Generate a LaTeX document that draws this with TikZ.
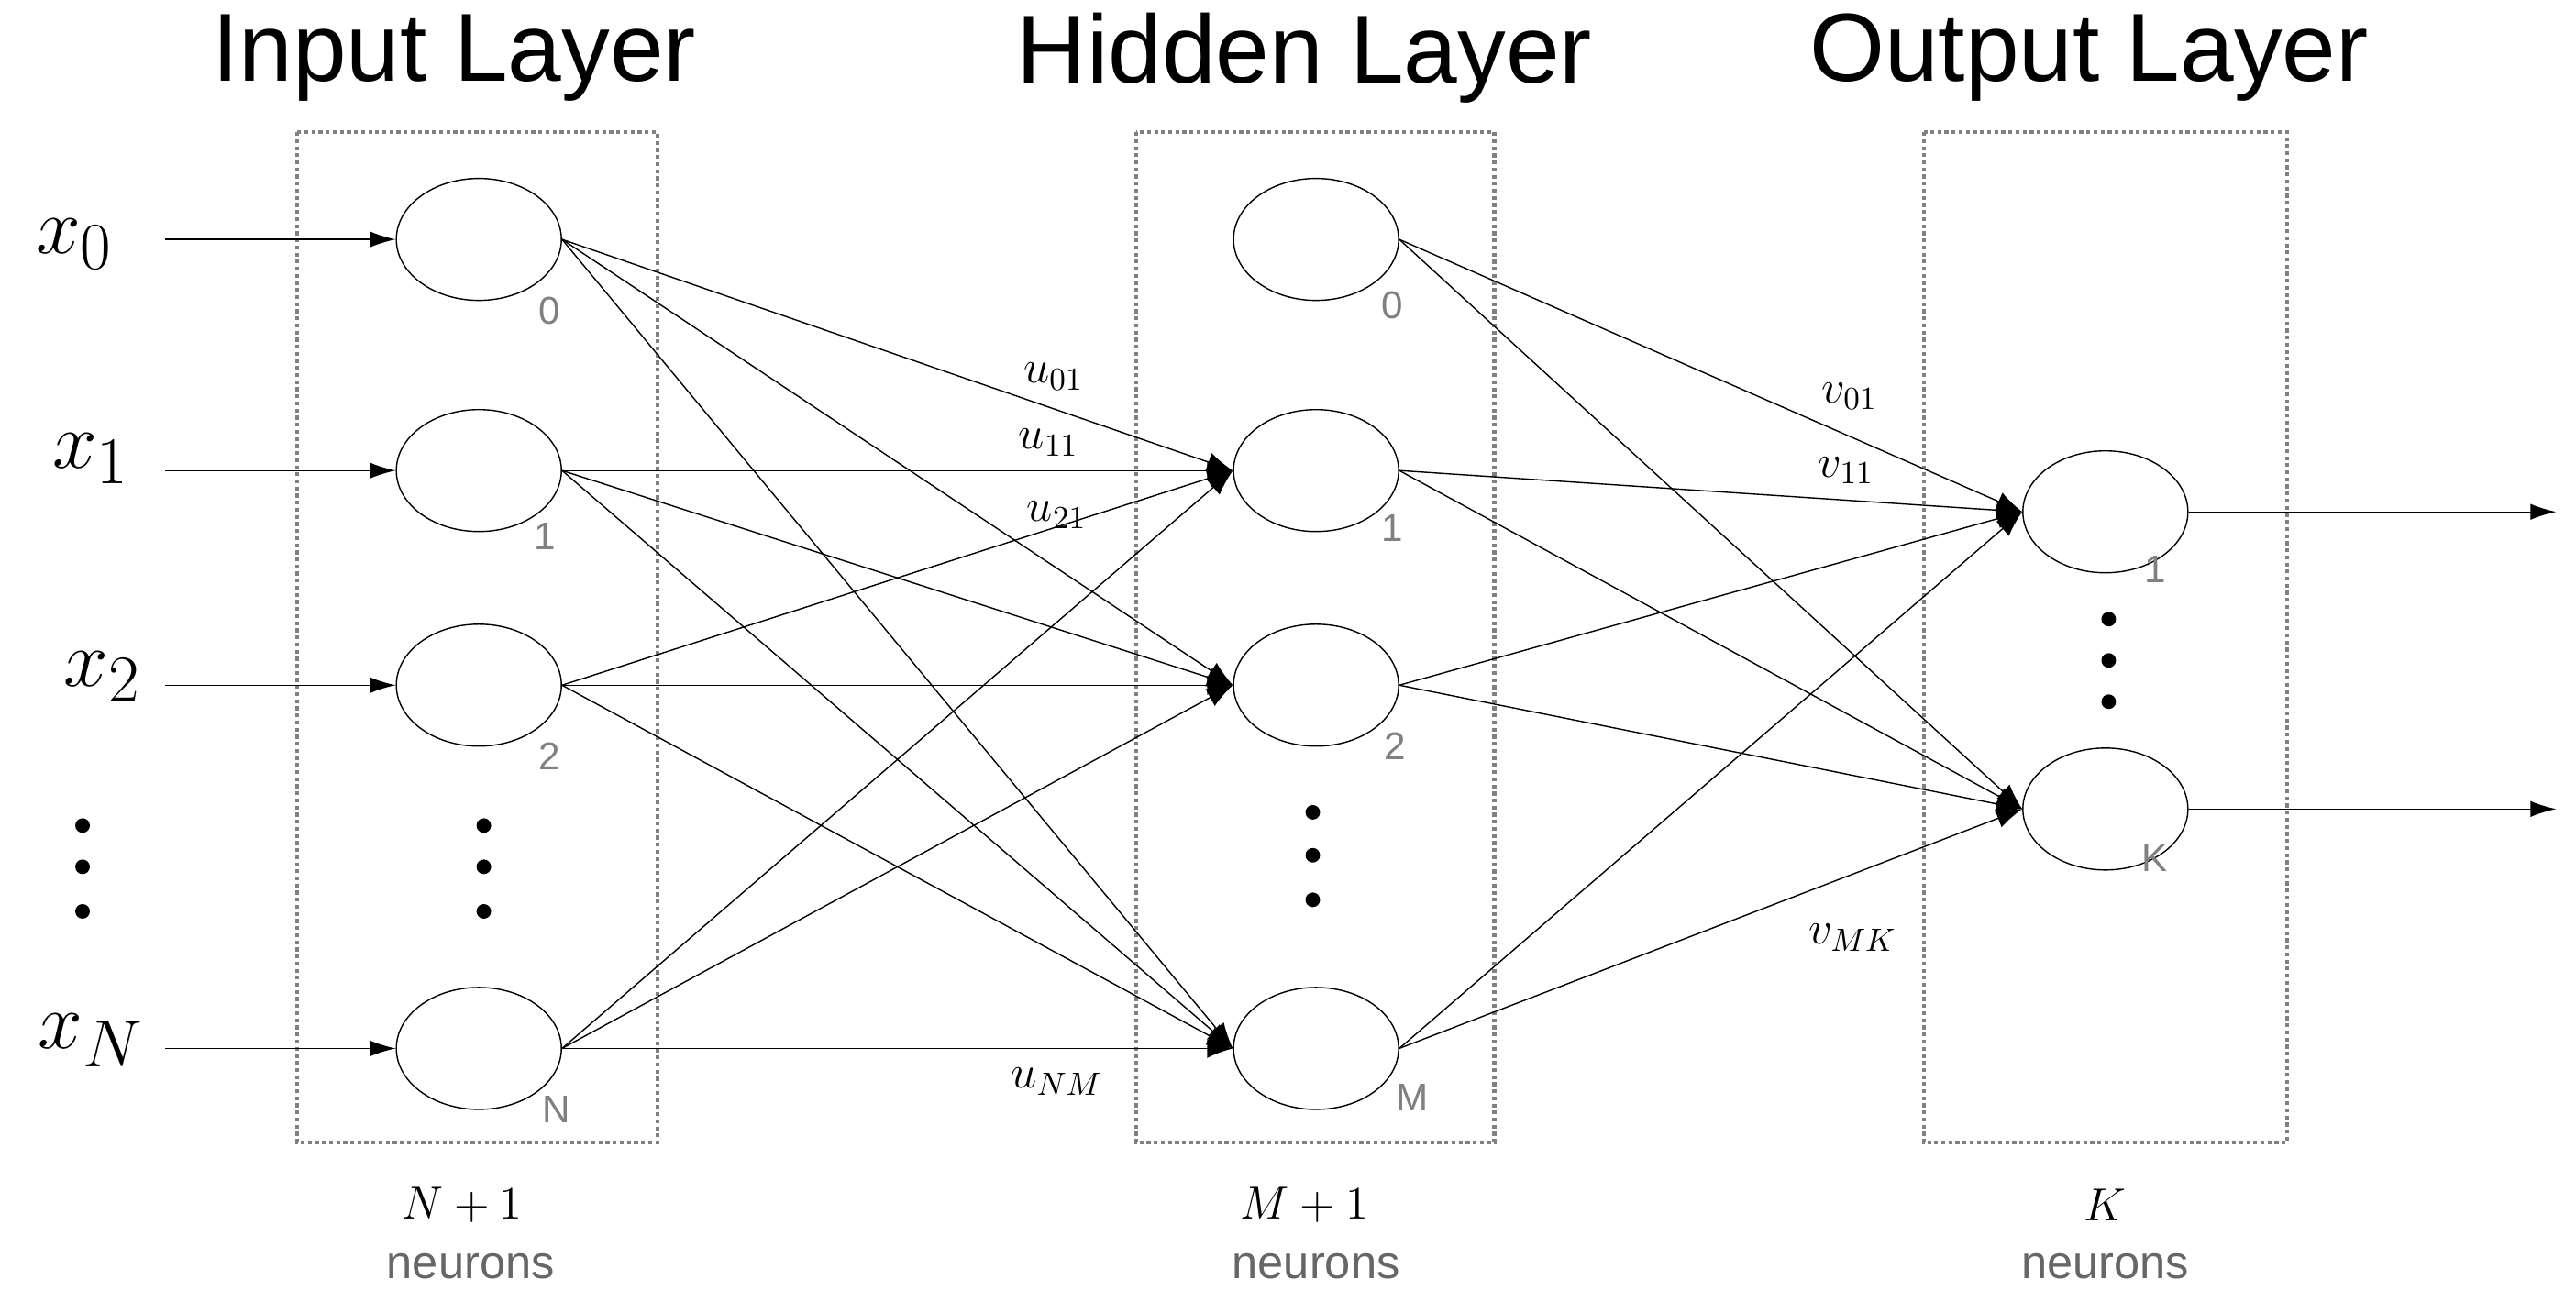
\documentclass[tikz,border=0pt]{standalone}
\usepackage{fontspec}
\setmainfont{Liberation Sans}
\usetikzlibrary{positioning,shapes.geometric,arrows.meta}

\begin{document}
\begin{tikzpicture}[x=0.018cm,y=-0.018cm,
    neuron/.style={ellipse, draw, thin, minimum width=1.8cm, minimum height=1.33cm},
    layer_box/.style={draw=gray, densely dotted, line width=1.2pt},
    nlabel/.style={font=\large, color=gray},
    title/.style={font=\fontsize{30}{34}\selectfont},
    link/.style={-{Latex[length=8pt,width=6pt]}, thin},
    feed/.style={-{Latex[length=8pt,width=5pt]}, thin},
    wlabel/.style={font=\Large},
    bdot/.style={circle, fill, inner sep=1.6pt}
]
\useasboundingbox (0,0) rectangle (1560,795);

% Titles
\node[title] (t_in) at (275,35) {Input Layer};
\node[title] (t_hid) at (790,35) {Hidden Layer};
\node[title] (t_out) at (1265,35) {Output Layer};

% Layer boxes
\draw[layer_box] (180,80) rectangle (398,692);
\draw[layer_box] (688,80) rectangle (905,692);
\draw[layer_box] (1165,80) rectangle (1385,692);

% Neurons
\foreach \n/\y in {0/145,1/285,2/415,N/635} {
    \node[neuron] (in\n) at (290,\y) {};
    \node[neuron] (hid\n) at (797,\y) {};
}
\node[neuron] (out1) at (1275,310) {};
\node[neuron] (outK) at (1275,490) {};

% Neuron numbers
\node[nlabel] at (333,188) {0};
\node[nlabel] at (330,325) {1};
\node[nlabel] at (333,458) {2};
\node[nlabel] at (337,672) {N};
\node[nlabel] at (843,185) {0};
\node[nlabel] at (843,320) {1};
\node[nlabel] at (845,452) {2};
\node[nlabel] at (855,665) {M};
\node[nlabel] at (1305,345) {1};
\node[nlabel] at (1305,520) {K};

% Vertical dots
\foreach \y in {500,525,552} {
    \node[bdot] at (50,\y) {};
    \node[bdot] at (293,\y) {};
}
\foreach \y in {492,518,545} \node[bdot] at (795,\y) {};
\foreach \y in {375,400,425} \node[bdot] at (1277,\y) {};

% Inputs
\foreach \n/\x/\y/\lab in {0/45/148/x_0,1/55/278/x_1,2/62/410/x_2,N/55/630/x_N} {
    \node[font=\fontsize{30}{34}\selectfont] (lx\n) at (\x,\y) {$\lab$};
    \coordinate (src\n) at (100,\y);
    \draw[feed] (src\n |- in\n) -- (in\n.west);
}

% Input to hidden
\foreach \i in {0,1,2,N}
    \foreach \j in {1,2,N}
        \draw[link] (in\i.east) -- (hid\j.west);

% Hidden to output
\foreach \i in {0,1,2,N}
    \foreach \j in {1,K}
        \draw[link] (hid\i.east) -- (out\j.west);

% Outputs
\coordinate (y1) at (1548,310);
\coordinate (yK) at (1548,490);
\draw[feed] (out1.east) -- (y1);
\draw[feed] (outK.east) -- (yK);

% Weights
\node[wlabel] at (638,228) {$u_{01}$};
\node[wlabel] at (635,268) {$u_{11}$};
\node[wlabel] at (640,312) {$u_{21}$};
\node[wlabel] at (640,655) {$u_{NM}$};
\node[wlabel] at (1120,240) {$v_{01}$};
\node[wlabel] at (1118,285) {$v_{11}$};
\node[wlabel] at (1122,568) {$v_{MK}$};

% Layer sizes
\node[font=\Large] at (280,730) {$N+1$};
\node[font=\Large, color=gray!80!black] at (285,767) {neurons};
\node[font=\Large] at (790,730) {$M+1$};
\node[font=\Large, color=gray!80!black] at (797,767) {neurons};
\node[font=\Large] at (1275,730) {$K$};
\node[font=\Large, color=gray!80!black] at (1275,767) {neurons};

\end{tikzpicture}
\end{document}
